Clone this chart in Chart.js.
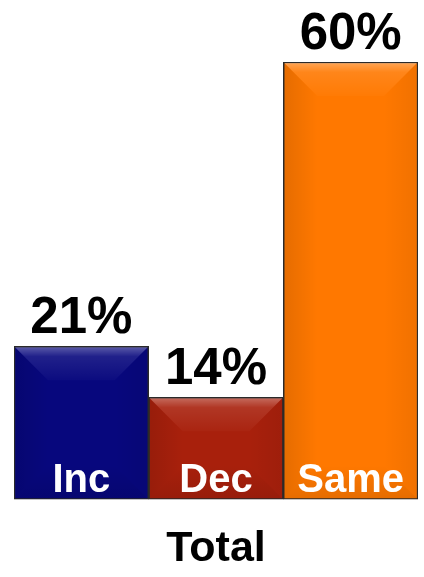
<!DOCTYPE html>
<html>
<head>
<title>Total</title>
<style>
body { margin:0; background:#fff; }
#wrap { width:424px; height:577px; }
</style>
</head>
<body>
<div id="wrap"><canvas id="myChart"></canvas></div>
<script src="https://cdn.jsdelivr.net/npm/chart.js"></script>
<script>
const categories = ['Inc', 'Dec', 'Same'];
const values = [21, 14, 60];
const barColors = ['#07077d', '#a8200c', '#ff7800'];
const axisTitle = 'Total';

// bevel overlay + text labels, positions come from the bar elements
const barDecor = {
    id: 'barDecor',
    afterDatasetsDraw(chart) {
        const ctx = chart.ctx;
        const meta = chart.getDatasetMeta(0);
        meta.data.forEach((bar, i) => {
            const p = bar.getProps(['x', 'y', 'base', 'width'], true);
            const x0 = p.x - p.width / 2, x1 = p.x + p.width / 2;
            const y0 = p.y, y1 = p.base;
            const b = Math.min(34, (y1 - y0) / 2);
            ctx.save();
            // top light wedge
            let g = ctx.createLinearGradient(0, y0, 0, y0 + b);
            g.addColorStop(0, 'rgba(255,255,255,0.35)');
            g.addColorStop(0.3, 'rgba(255,255,255,0.10)');
            g.addColorStop(1, 'rgba(255,255,255,0.02)');
            ctx.fillStyle = g;
            ctx.beginPath();
            ctx.moveTo(x0 + 1, y0 + 1); ctx.lineTo(x1 - 1, y0 + 1);
            ctx.lineTo(x1 - b, y0 + b); ctx.lineTo(x0 + b, y0 + b);
            ctx.closePath(); ctx.fill();
            // left side
            g = ctx.createLinearGradient(x0, 0, x0 + b, 0);
            g.addColorStop(0, 'rgba(0,0,0,0.10)');
            g.addColorStop(1, 'rgba(0,0,0,0.0)');
            ctx.fillStyle = g;
            ctx.beginPath();
            ctx.moveTo(x0 + 1, y0 + 1); ctx.lineTo(x0 + b, y0 + b);
            ctx.lineTo(x0 + b, y1 - b); ctx.lineTo(x0 + 1, y1 - 1);
            ctx.closePath(); ctx.fill();
            // right side
            g = ctx.createLinearGradient(x1, 0, x1 - b, 0);
            g.addColorStop(0, 'rgba(0,0,0,0.06)');
            g.addColorStop(1, 'rgba(0,0,0,0.0)');
            ctx.fillStyle = g;
            ctx.beginPath();
            ctx.moveTo(x1 - 1, y0 + 1); ctx.lineTo(x1 - b, y0 + b);
            ctx.lineTo(x1 - b, y1 - b); ctx.lineTo(x1 - 1, y1 - 1);
            ctx.closePath(); ctx.fill();
            // bottom
            g = ctx.createLinearGradient(0, y1, 0, y1 - b);
            g.addColorStop(0, 'rgba(0,0,0,0.10)');
            g.addColorStop(1, 'rgba(0,0,0,0.0)');
            ctx.fillStyle = g;
            ctx.beginPath();
            ctx.moveTo(x0 + 1, y1 - 1); ctx.lineTo(x0 + b, y1 - b);
            ctx.lineTo(x1 - b, y1 - b); ctx.lineTo(x1 - 1, y1 - 1);
            ctx.closePath(); ctx.fill();

            // value above bar
            ctx.fillStyle = '#000';
            ctx.textAlign = 'center';
            ctx.textBaseline = 'alphabetic';
            ctx.font = 'bold 51px "Liberation Sans", Arial, sans-serif';
            ctx.fillText(values[i] + '%', p.x, y0 - 13);
            // category inside bar
            ctx.fillStyle = '#fff';
            ctx.font = 'bold 40px "Liberation Sans", Arial, sans-serif';
            ctx.fillText(categories[i], p.x, y1 - 7);
            ctx.restore();
        });
    }
};

const ctx = document.getElementById('myChart').getContext('2d');
const myChart = new Chart(ctx, {
    type: 'bar',
    data: {
        labels: categories,
        datasets: [{
            data: values,
            backgroundColor: barColors,
            borderColor: '#2a2a2a',
            borderWidth: 1.5,
            borderSkipped: false,
            barPercentage: 1,
            categoryPercentage: 1
        }]
    },
    options: {
        responsive: true,
        maintainAspectRatio: false,
        animation: false,
        layout: { padding: { left: 14, right: 6, top: 62, bottom: 0 } },
        plugins: { legend: { display: false }, tooltip: { enabled: false } },
        scales: {
            y: { display: false, min: 0, max: 60 },
            x: {
                grid: { display: false },
                border: { display: false },
                ticks: { display: false },
                title: {
                    display: true,
                    text: axisTitle,
                    color: '#000',
                    font: { family: '"Liberation Sans", Arial, sans-serif', size: 43, weight: 'bold' },
                    padding: { top: 16, bottom: 2 }
                }
            }
        }
    },
    plugins: [barDecor]
});
</script>
</body>
</html>
